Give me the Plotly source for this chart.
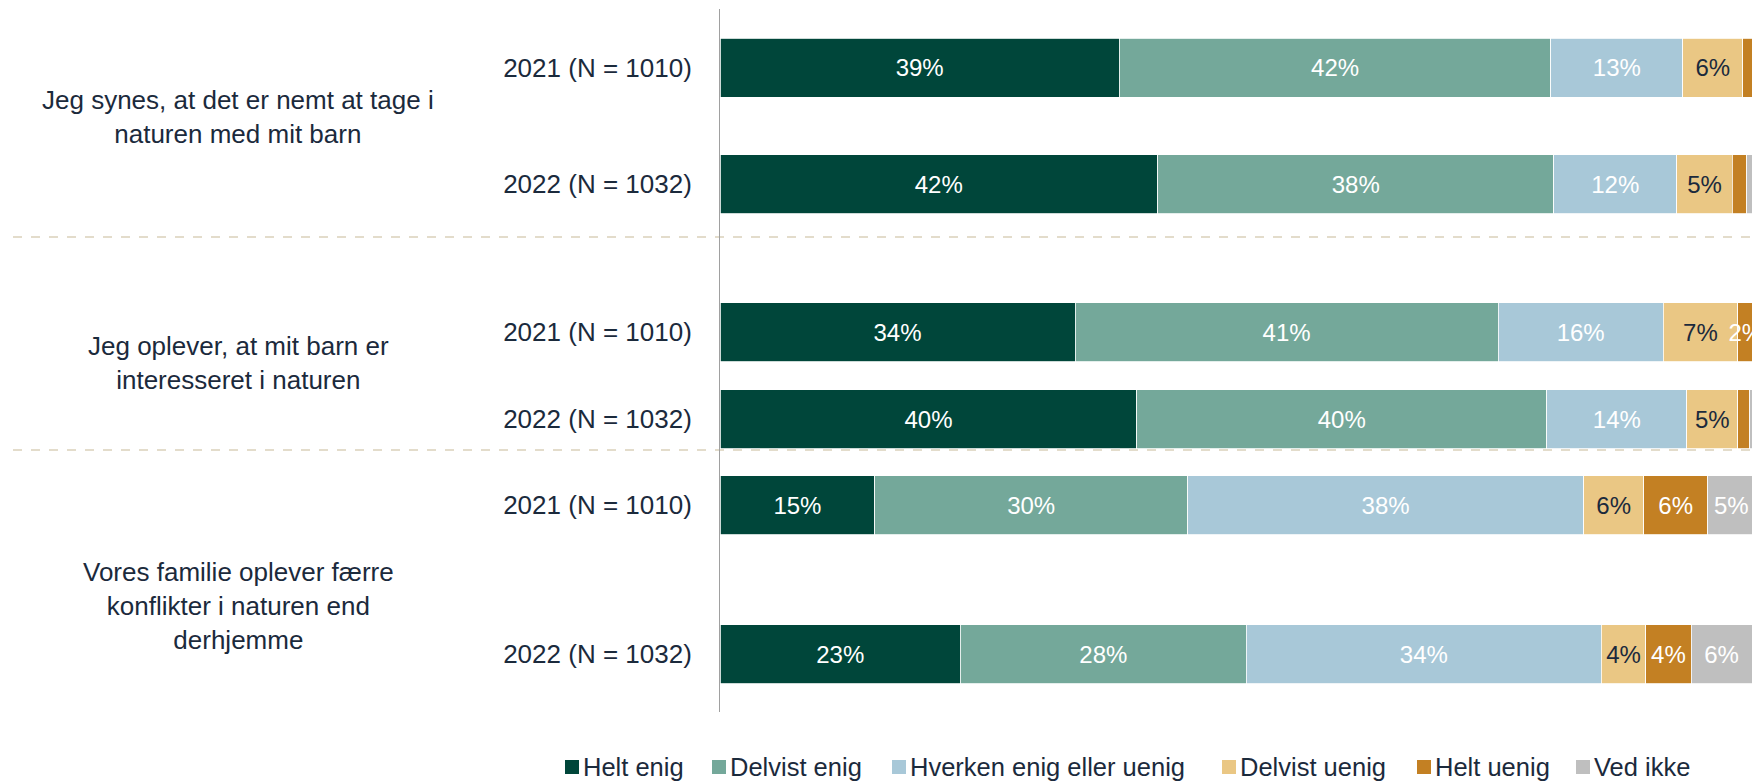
import plotly.graph_objects as go

# ---- data ----
categories = ["Helt enig", "Delvist enig", "Hverken enig eller uenig",
              "Delvist uenig", "Helt uenig", "Ved ikke"]
row_labels = ["2021 (N = 1010)", "2022 (N = 1032)",
              "2021 (N = 1010)", "2022 (N = 1032)",
              "2021 (N = 1010)", "2022 (N = 1032)"]
questions = ["Jeg synes, at det er nemt at tage i<br>naturen med mit barn",
             "Jeg oplever, at mit barn er<br>interesseret i naturen",
             "Vores familie oplever færre<br>konflikter i naturen end<br>derhjemme"]

helt_enig     = [38.7, 42.4, 34.4, 40.4, 15.0, 23.3]
delvist_enig  = [41.8, 38.4, 41.0, 39.7, 30.3, 27.7]
hverken       = [12.8, 11.9, 16.0, 13.6, 38.4, 34.4]
delvist_uenig = [5.8, 5.4, 7.2, 4.9, 5.8, 4.3]
helt_uenig    = [0.9, 1.4, 1.6, 1.2, 6.2, 4.4]
ved_ikke      = [0.0, 0.5, 0.0, 0.2, 4.6, 5.9]
series = [helt_enig, delvist_enig, hverken, delvist_uenig, helt_uenig, ved_ikke]

# ---- layout / style ----
colors = ["#00463A", "#74A89A", "#A8C8D8", "#EAC784", "#C38023", "#BFBFBF"]
text_colors = ["white", "white", "white", "#1B2A3C", "white", "white"]
NAVY = "#1B2A3C"
FONT = "Liberation Sans, Arial, sans-serif"

W, H = 1752, 781
ML, MR, MT, MB = 720, 0, 9, 781 - 712
plot_w = W - ML - MR
plot_h = H - MT - MB
row_pos = [58.5, 175, 323, 410, 496, 645]   # row slots (px units of y axis)
bar_w = 59
sep_pos = [228, 441]
question_pos = [108, 354, 597]
legend_sq_left = [565, 712, 892, 1222, 1417, 1576]   # page px
legend_y = 767
sq = 14


def xp(px):
    return (px - ML) / plot_w


def yp(py):
    return 1 - (py - MT) / plot_h


fig = go.Figure()
for name, vals, col, tcol in zip(categories, series, colors, text_colors):
    fig.add_trace(go.Bar(
        name=name, x=vals, y=row_pos, orientation="h", width=bar_w,
        marker=dict(color=col, line=dict(color="white", width=0.8)),
        text=[f"{v:.0f}%" if v >= 1.5 else "" for v in vals],
        textposition="inside", insidetextanchor="middle", textangle=0,
        textfont=dict(color=tcol, size=24, family=FONT),
        hoverinfo="name+x", showlegend=False,
    ))

shapes = []
for s in sep_pos:
    shapes.append(dict(type="line", xref="paper", yref="y",
                       x0=xp(13), x1=1, y0=s, y1=s,
                       line=dict(color="#E3DCCB", width=2, dash="dash"),
                       layer="below"))

annotations = []
for q, ypos in zip(questions, question_pos):
    annotations.append(dict(text=q, xref="paper", yref="y",
                            x=xp(238), y=ypos,
                            xanchor="center", yanchor="middle", showarrow=False,
                            align="center",
                            font=dict(size=26, color=NAVY, family=FONT)))

# legend (keys drawn as squares, labels as text)
for name, col, left in zip(categories, colors, legend_sq_left):
    shapes.append(dict(type="rect", xref="paper", yref="paper",
                       x0=xp(left), x1=xp(left + sq),
                       y0=yp(legend_y + sq / 2), y1=yp(legend_y - sq / 2),
                       fillcolor=col, line=dict(width=0)))
    annotations.append(dict(text=name, xref="paper", yref="paper",
                            x=xp(left + sq + 3), y=yp(legend_y),
                            xanchor="left", yanchor="middle", showarrow=False,
                            borderpad=0,
                            font=dict(size=25.5, color=NAVY, family=FONT)))

fig.update_layout(
    width=W, height=H, barmode="stack",
    margin=dict(l=ML, r=MR, t=MT, b=MB, autoexpand=False),
    paper_bgcolor="white", plot_bgcolor="white",
    font=dict(family=FONT, color=NAVY, size=26),
    xaxis=dict(range=[0, 100], showgrid=False, zeroline=False,
               showticklabels=False, showline=False, fixedrange=True),
    yaxis=dict(range=[plot_h, 0], showgrid=False, zeroline=False,
               tickvals=row_pos, ticktext=row_labels,
               tickfont=dict(size=26, color=NAVY, family=FONT),
               ticks="outside", ticklen=22, tickcolor="rgba(0,0,0,0)",
               showline=True, linecolor="#A0A0A0", linewidth=1,
               fixedrange=True, automargin=False),
    shapes=shapes, annotations=annotations,
    uniformtext=dict(minsize=24, mode="show"),
    showlegend=False,
)

# page without the default body margin / scrollbars so the figure fills the window
page_css = ("document.documentElement.style.overflow='hidden';"
            "document.body.style.margin='0';"
            "document.body.style.overflow='hidden';")
fig.write_html("out.html", post_script=page_css,
               config={"displayModeBar": False})
